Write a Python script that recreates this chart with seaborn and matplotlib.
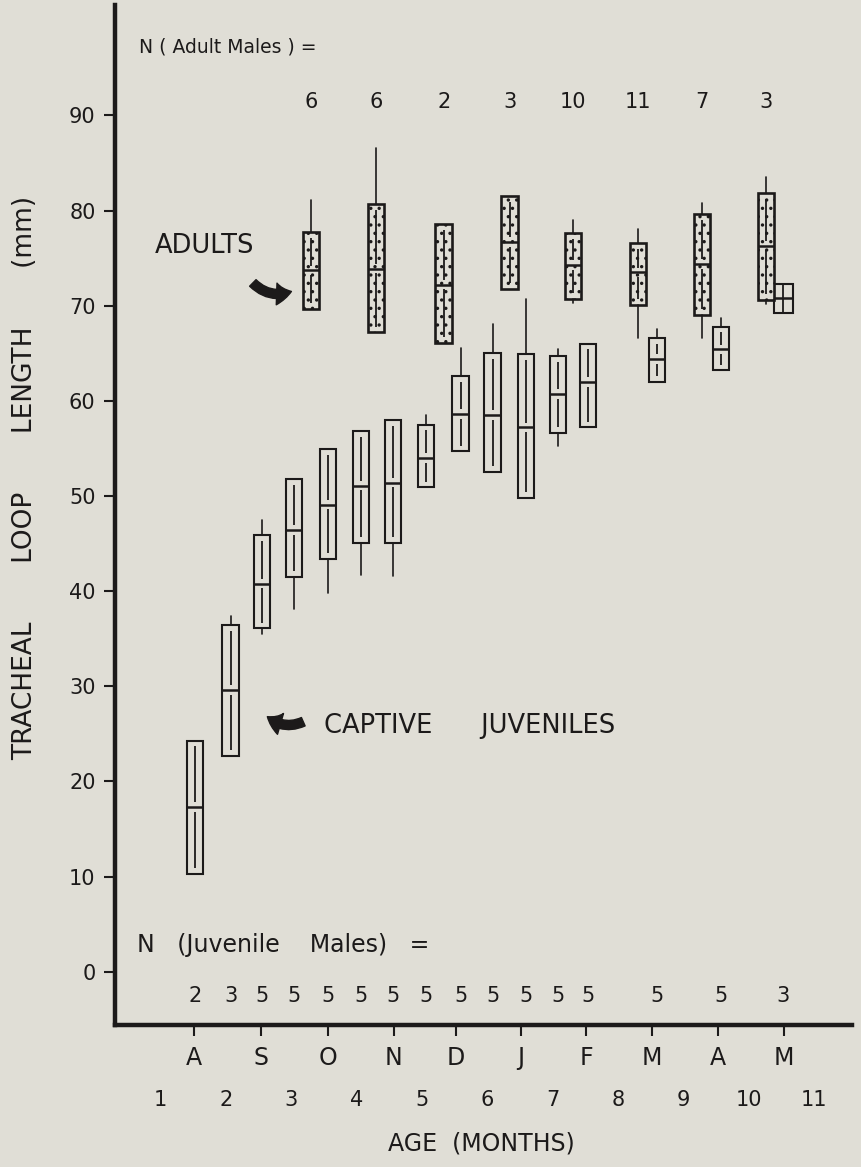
import matplotlib
matplotlib.use("Agg")
import matplotlib.pyplot as plt
import seaborn as sns

# Captive juveniles: age (months), box bottom / median / box top, range min / max
juv_age = [1.52, 2.07, 2.55, 3.04, 3.56, 4.07, 4.55, 5.06, 5.59, 6.08, 6.59, 7.08, 7.54, 8.60, 9.58, 10.53]
juv_n = [2, 3, 5, 5, 5, 5, 5, 5, 5, 5, 5, 5, 5, 5, 5, 3]
juv_lo = [10.3, 22.7, 36.1, 41.5, 43.4, 45.1, 45.1, 50.9, 54.7, 52.5, 49.8, 56.6, 57.2, 62.0, 63.2, 69.2]
juv_med = [17.3, 29.6, 40.8, 46.4, 49.1, 51.1, 51.4, 54.0, 58.6, 58.5, 57.2, 60.7, 62.0, 64.4, 65.4, 70.8]
juv_hi = [24.3, 36.4, 45.9, 51.8, 54.9, 56.8, 58.0, 57.5, 62.6, 65.0, 64.9, 64.7, 66.0, 66.6, 67.8, 72.3]
juv_min = [10.3, 22.7, 35.5, 38.1, 39.8, 41.7, 41.6, 50.9, 54.7, 52.5, 49.8, 55.2, 57.2, 62.0, 63.2, 69.2]
juv_max = [24.3, 37.4, 47.5, 51.8, 54.9, 56.8, 58.0, 58.5, 65.6, 68.1, 70.7, 65.4, 66.0, 67.5, 68.7, 72.3]

# Adult males
adult_age = [3.30, 4.29, 5.33, 6.34, 7.31, 8.30, 9.28, 10.26]
adult_n = [6, 6, 2, 3, 10, 11, 7, 3]
adult_lo = [69.7, 67.2, 66.1, 71.8, 70.7, 70.1, 69.0, 70.6]
adult_med = [73.7, 73.9, 72.2, 76.7, 74.3, 73.5, 74.4, 76.3]
adult_hi = [77.7, 80.7, 78.6, 81.5, 77.6, 76.6, 79.6, 81.8]
adult_min = [69.7, 67.2, 66.1, 71.8, 70.3, 66.6, 66.6, 70.2]
adult_max = [81.1, 86.6, 78.6, 81.5, 79.0, 78.1, 80.8, 83.5]

month_pos = [1.51, 2.53, 3.56, 4.57, 5.52, 6.51, 7.51, 8.52, 9.53, 10.54]
month_labels = ["A", "S", "O", "N", "D", "J", "F", "M", "A", "M"]
age_ticks = list(range(1, 12))
y_ticks = list(range(0, 100, 10))

bg = "#e0ded6"
ink = "#1c1a1a"

sns.set_theme(style="ticks")
plt.rcParams["font.family"] = ["DejaVu Sans"]
plt.rcParams["hatch.color"] = ink
plt.rcParams["hatch.linewidth"] = 1.2

fig = plt.figure(figsize=(8.61, 11.67), dpi=100, facecolor=bg)
ax = fig.add_axes([115 / 861, 1 - 1025 / 1167, 737 / 861, 1020 / 1167])
ax.set_facecolor(bg)


def stats(lo, med, hi, mn, mx):
    return [dict(med=m, q1=l, q3=h, whislo=a, whishi=b, fliers=[])
            for l, m, h, a, b in zip(lo, med, hi, mn, mx)]


def inner_lines(xs, lo, med, hi, lw):
    for x, l, m, h in zip(xs, lo, med, hi):
        if h - l < 4:
            ax.vlines(x, l, h, color=ink, lw=lw)
            continue
        g = 0.6
        ax.vlines(x, m + 0.5, h - g, color=ink, lw=lw)
        ax.vlines(x, l + g, m - 0.5, color=ink, lw=lw)


juv_w = [0.25] * (len(juv_age) - 1) + [0.28]
ax.bxp(stats(juv_lo, juv_med, juv_hi, juv_min, juv_max), positions=juv_age,
       widths=juv_w, showcaps=False, showfliers=False, patch_artist=True,
       boxprops=dict(facecolor=bg, edgecolor=ink, linewidth=1.5),
       medianprops=dict(color=ink, linewidth=1.8),
       whiskerprops=dict(color=ink, linewidth=1.2), manage_ticks=False)
inner_lines(juv_age, juv_lo, juv_med, juv_hi, 1.3)

ax.bxp(stats(adult_lo, adult_med, adult_hi, adult_min, adult_max), positions=adult_age,
       widths=0.25, showcaps=False, showfliers=False, patch_artist=True,
       boxprops=dict(facecolor=bg, edgecolor=ink, linewidth=1.9, hatch=".."),
       medianprops=dict(color=ink, linewidth=1.8),
       whiskerprops=dict(color=ink, linewidth=1.2), manage_ticks=False)
inner_lines(adult_age, adult_lo, adult_med, adult_hi, 1.3)

ax.set_xlim(0.3, 11.58)
ax.set_ylim(-5.6, 101.6)
ax.set_yticks(y_ticks)
ax.set_xticks(month_pos)
ax.set_xticklabels(month_labels)
sns.despine(ax=ax)
for s in ["left", "bottom"]:
    ax.spines[s].set_linewidth(3.2)
    ax.spines[s].set_color(ink)
ax.tick_params(axis="y", length=8, width=1.5, color=ink, labelsize=15, pad=6, labelcolor=ink)
ax.tick_params(axis="x", length=8, width=1.5, color=ink, labelsize=17, pad=7, labelcolor=ink)

fig.text(25 / 861, 1 - 478 / 1167, "TRACHEAL       LOOP       LENGTH       (mm)",
         rotation=90, ha="center", va="center", fontsize=19, color=ink)

xf = ax.get_xaxis_transform()
for a in age_ticks:
    ax.text(a, -0.074, str(a), transform=xf, ha="center", va="center", fontsize=15, color=ink)
ax.text(5.9, -0.116, "AGE  (MONTHS)", transform=xf, ha="center", va="center", fontsize=17, color=ink)

# sample sizes
ax.text(0.67, 97.2, "N ( Adult Males ) =", ha="left", va="center", fontsize=13.5, color=ink)
for x, n in zip(adult_age, adult_n):
    ax.text(x, 91.4, str(n), ha="center", va="center", fontsize=15, color=ink)
ax.text(0.63, 2.8, "N   (Juvenile    Males)   =", ha="left", va="center", fontsize=17, color=ink)
for x, n in zip(juv_age, juv_n):
    ax.text(x, -2.6, str(n), ha="center", va="center", fontsize=15, color=ink)

# labels with arrows
ax.text(0.91, 76.3, "ADULTS", ha="left", va="center", fontsize=18.5, color=ink)
ax.annotate("", xy=(3.04, 71.6), xytext=(2.38, 72.6),
            arrowprops=dict(arrowstyle="simple,head_length=0.9,head_width=1.3,tail_width=0.55",
                            connectionstyle="arc3,rad=0.35", color=ink))
ax.text(3.5, 25.8, "CAPTIVE      JUVENILES", ha="left", va="center", fontsize=18.5, color=ink)
ax.annotate("", xy=(2.6, 27.0), xytext=(3.22, 26.4),
            arrowprops=dict(arrowstyle="simple,head_length=0.9,head_width=1.3,tail_width=0.55",
                            connectionstyle="arc3,rad=-0.35", color=ink))

fig.savefig("out.png", dpi=100, facecolor=bg)
